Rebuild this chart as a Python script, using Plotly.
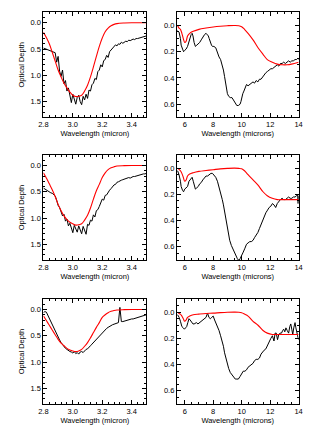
import numpy as np
import plotly.graph_objects as go

# ---------------- data ----------------
# 3-micron panels (left column): common wavelength grid for observed spectra
wl_left = np.round(np.arange(2.80, 3.5001, 0.01), 2)

obs_left_1 = [0.48, 0.49, 0.50, 0.51, 0.52, 0.53, 0.54, 0.55,
              0.57, 0.75, 0.64, 0.92, 1.02, 0.90, 1.16, 1.10, 1.30, 1.24,
              1.41, 1.52, 1.36, 1.45, 1.55, 1.42, 1.38, 1.50, 1.56, 1.40,
              1.47, 1.36, 1.44, 1.28, 1.30, 1.18, 1.15, 1.06, 1.08, 0.93,
              0.90, 0.80, 0.84, 0.72, 0.70, 0.62, 0.66, 0.55, 0.52, 0.49,
              0.47, 0.42, 0.44, 0.40, 0.41, 0.37, 0.39, 0.36, 0.35, 0.36,
              0.33, 0.34, 0.32, 0.31, 0.32, 0.30, 0.30, 0.29, 0.29, 0.28,
              0.27, 0.26, 0.25]
obs_left_2 = [0.43, 0.45, 0.46, 0.48, 0.50, 0.52, 0.53, 0.55,
              0.58, 0.66, 0.76, 0.80, 0.88, 0.96, 0.93, 1.06, 1.02, 1.15,
              1.10, 1.22, 1.28, 1.14, 1.20, 1.27, 1.15, 1.24, 1.30, 1.16,
              1.22, 1.31, 1.12, 1.14, 1.04, 1.06, 0.94, 0.98, 0.86, 0.84,
              0.78, 0.72, 0.64, 0.66, 0.57, 0.56, 0.50, 0.47, 0.44, 0.40,
              0.37, 0.36, 0.32, 0.31, 0.29, 0.28, 0.27, 0.26, 0.25, 0.25,
              0.23, 0.24, 0.22, 0.21, 0.21, 0.20, 0.19, 0.19, 0.18, 0.17,
              0.16, 0.16, 0.15]
obs_left_3 = [0.06, 0.04, 0.05, 0.11, 0.17, 0.23, 0.30, 0.37,
              0.43, 0.48, 0.53, 0.58, 0.63, 0.67, 0.70, 0.74, 0.76, 0.79,
              0.80, 0.81, 0.83, 0.80, 0.84, 0.82, 0.85, 0.81, 0.80, 0.82,
              0.78, 0.76, 0.75, 0.71, 0.69, 0.66, 0.63, 0.60, 0.57, 0.53,
              0.49, 0.47, 0.43, 0.41, 0.38, 0.36, 0.34, 0.32, 0.31, 0.29,
              0.28, 0.27, 0.26, 0.25, -0.04, 0.23, 0.23, 0.22, 0.21, 0.21,
              0.20, 0.19, 0.18, 0.18, 0.17, 0.16, 0.15, 0.15, 0.14, 0.13,
              0.12, 0.11, 0.10]

# model (red) curves for the 3-micron panels
wl_model_left = [2.80, 2.82, 2.84, 2.86, 2.88, 2.90, 2.92, 2.94, 2.96, 2.98,
                 3.00, 3.02, 3.04, 3.06, 3.08, 3.10, 3.12, 3.14, 3.16, 3.18,
                 3.20, 3.22, 3.24, 3.26, 3.28, 3.30, 3.35, 3.40, 3.45, 3.50]
model_left_1 = [0.18, 0.28, 0.40, 0.56, 0.73, 0.90, 1.03, 1.15, 1.24, 1.32,
                1.38, 1.405, 1.40, 1.38, 1.30, 1.19, 1.03, 0.84, 0.64, 0.45,
                0.29, 0.17, 0.10, 0.055, 0.03, 0.015, 0.004, 0.0, 0.0, 0.0]
model_left_2 = [0.14, 0.24, 0.35, 0.46, 0.59, 0.74, 0.86, 0.96, 1.03, 1.08,
                1.11, 1.135, 1.13, 1.11, 1.04, 0.95, 0.81, 0.64, 0.48, 0.36,
                0.23, 0.14, 0.08, 0.045, 0.025, 0.01, 0.003, 0.0, 0.0, 0.0]
model_left_3 = [0.12, 0.21, 0.30, 0.39, 0.48, 0.57, 0.64, 0.69, 0.74, 0.77,
                0.79, 0.80, 0.79, 0.76, 0.70, 0.63, 0.54, 0.44, 0.34, 0.25,
                0.15, 0.10, 0.06, 0.035, 0.02, 0.01, 0.003, 0.0, 0.0, 0.0]

# 5-14 micron panels (right column): observed spectra
wl_right_1 = [5.50, 5.60, 5.70, 5.75, 5.85, 5.92, 6.00, 6.10, 6.20, 6.30, 6.36, 6.45, 6.52, 6.58,
              6.66, 6.75, 6.85, 6.95, 7.05, 7.16, 7.27, 7.39, 7.50, 7.58, 7.66, 7.72, 7.80, 7.88,
              7.95, 8.05, 8.18, 8.30, 8.41, 8.52, 8.64, 8.72, 8.80, 8.87, 8.93, 9.00, 9.09, 9.20,
              9.32, 9.43, 9.55, 9.66, 9.77, 9.89, 9.95, 10.00, 10.08, 10.16, 10.25, 10.34, 10.45,
              10.57, 10.68, 10.80, 10.90, 11.02, 11.14, 11.25, 11.36, 11.48, 11.58, 11.70, 11.82,
              11.93, 12.05, 12.16, 12.27, 12.39, 12.50, 12.61, 12.72, 12.84, 12.95, 13.07, 13.18,
              13.30, 13.41, 13.52, 13.63, 13.75, 13.86, 13.95, 14.00]
obs_right_1 = [0.04, 0.05, 0.10, 0.15, 0.18, 0.20, 0.19, 0.18, 0.16, 0.12, 0.10, 0.07, 0.06, 0.08,
               0.13, 0.16, 0.15, 0.14, 0.13, 0.11, 0.09, 0.07, 0.06, 0.07, 0.08, 0.10, 0.13, 0.15,
               0.16, 0.16, 0.17, 0.21, 0.24, 0.26, 0.30, 0.34, 0.39, 0.44, 0.49, 0.52, 0.54, 0.55,
               0.55, 0.57, 0.59, 0.61, 0.61, 0.60, 0.58, 0.55, 0.52, 0.50, 0.47, 0.45, 0.46,
               0.45, 0.44, 0.43, 0.44, 0.42, 0.43, 0.41, 0.41, 0.39, 0.38, 0.36, 0.35,
               0.34, 0.33, 0.33, 0.32, 0.31, 0.30, 0.31, 0.29, 0.29, 0.28, 0.29, 0.28,
               0.27, 0.28, 0.27, 0.27, 0.26, 0.26, 0.25, 0.26]

wl_right_2 = [5.50, 5.60, 5.70, 5.75, 5.85, 5.92, 6.00, 6.10, 6.20, 6.30, 6.36, 6.45, 6.52, 6.60,
              6.66, 6.75, 6.85, 6.95, 7.05, 7.16, 7.27, 7.39, 7.50, 7.61, 7.72, 7.84, 7.95, 8.05,
              8.18, 8.30, 8.41, 8.52, 8.64, 8.72, 8.80, 8.90, 8.98, 9.08, 9.16, 9.28, 9.39, 9.50,
              9.61, 9.70, 9.77, 9.84, 9.89, 10.00, 10.11, 10.23, 10.34, 10.45, 10.57, 10.68,
              10.80, 10.90, 11.02, 11.14, 11.25, 11.36, 11.48, 11.58, 11.70, 11.82, 11.93,
              12.05, 12.16, 12.27, 12.39, 12.50, 12.61, 12.72, 12.84, 12.95, 13.07, 13.18,
              13.30, 13.41, 13.52, 13.63, 13.75, 13.86, 13.93, 13.97, 14.00]
obs_right_2 = [0.02, 0.05, 0.10, 0.14, 0.17, 0.18, 0.16, 0.15, 0.14, 0.10, 0.09, 0.08, 0.07, 0.10,
               0.13, 0.16, 0.15, 0.14, 0.12, 0.11, 0.09, 0.07, 0.06, 0.06, 0.05, 0.04, 0.04, 0.05,
               0.07, 0.10, 0.14, 0.19, 0.24, 0.28, 0.33, 0.38, 0.44, 0.50, 0.55, 0.59, 0.62, 0.65,
               0.67, 0.69, 0.70, 0.70, 0.69, 0.67, 0.64, 0.61, 0.58, 0.57, 0.56, 0.56,
               0.55, 0.53, 0.51, 0.49, 0.46, 0.43, 0.39, 0.37, 0.34, 0.32, 0.30,
               0.29, 0.27, 0.28, 0.30, 0.27, 0.25, 0.24, 0.23, 0.24, 0.24, 0.23,
               0.22, 0.23, 0.23, 0.22, 0.22, 0.21, 0.20, 0.27, 0.21]

wl_right_3 = [5.50, 5.61, 5.70, 5.80, 5.90, 5.98, 6.06, 6.14, 6.22, 6.30, 6.38, 6.48, 6.58, 6.66,
              6.75, 6.82, 6.93, 7.05, 7.16, 7.27, 7.39, 7.50, 7.56, 7.61, 7.70, 7.80, 7.90, 8.00,
              8.10, 8.18, 8.30, 8.41, 8.52, 8.64, 8.72, 8.80, 8.90, 8.98, 9.09, 9.20, 9.32, 9.43,
              9.55, 9.66, 9.77, 9.89, 10.00, 10.11, 10.23, 10.34, 10.45, 10.57, 10.68, 10.80,
              10.90, 11.02, 11.14, 11.25, 11.36, 11.48, 11.58, 11.70, 11.82, 11.93, 12.05,
              12.16, 12.27, 12.35, 12.43, 12.52, 12.61, 12.70, 12.80, 12.88, 12.95, 13.03,
              13.11, 13.20, 13.30, 13.38, 13.45, 13.52, 13.59, 13.66, 13.75, 13.81, 13.86,
              13.93, 14.00]
obs_right_3 = [0.02, 0.04, 0.07, 0.11, 0.12, 0.13, 0.12, 0.11, 0.08, 0.05, 0.06, 0.08, 0.09, 0.09,
               0.08, 0.08, 0.09, 0.08, 0.07, 0.06, 0.05, 0.04, 0.02, 0.01, 0.04, 0.05, 0.04, 0.03,
               0.06, 0.08, 0.11, 0.14, 0.18, 0.22, 0.26, 0.31, 0.36, 0.40, 0.43, 0.46, 0.48, 0.50,
               0.51, 0.51, 0.51, 0.49, 0.47, 0.45, 0.45, 0.44, 0.42, 0.41, 0.40, 0.39,
               0.37, 0.36, 0.36, 0.35, 0.32, 0.30, 0.29, 0.28, 0.25, 0.22, 0.20,
               0.18, 0.22, 0.16, 0.16, 0.21, 0.17, 0.16, 0.16, 0.14, 0.13, 0.15,
               0.12, 0.14, 0.16, 0.11, 0.09, 0.13, 0.17, 0.12, 0.08, 0.12, 0.16,
               0.18, 0.21]

# model (red) curves for the 5-14 micron panels
wl_model_right = [5.5, 5.6, 5.7, 5.8, 5.9, 6.0, 6.1, 6.2, 6.35, 6.6, 7.0, 7.5, 8.0, 8.5, 9.0,
                  9.5, 9.8, 10.0, 10.2, 10.45, 10.8, 11.15, 11.5, 11.8, 12.15, 12.5, 12.85,
                  13.2, 13.5, 14.0]
model_right_1 = [0.0, 0.02, 0.03, 0.06, 0.10, 0.13, 0.12, 0.08, 0.06, 0.045, 0.03, 0.02, 0.012,
                 0.006, 0.002, 0.0, 0.002, 0.01, 0.03, 0.06, 0.11, 0.17, 0.22, 0.26, 0.28,
                 0.295, 0.30, 0.30, 0.295, 0.28]
model_right_2 = [0.0, 0.01, 0.02, 0.04, 0.07, 0.10, 0.09, 0.06, 0.045, 0.035, 0.025, 0.018,
                 0.012, 0.006, 0.002, 0.0, 0.002, 0.005, 0.02, 0.05, 0.09, 0.13, 0.18, 0.21,
                 0.23, 0.24, 0.24, 0.24, 0.24, 0.24]
model_right_3 = [0.0, 0.01, 0.015, 0.03, 0.05, 0.07, 0.06, 0.04, 0.03, 0.02, 0.015, 0.01, 0.008,
                 0.004, 0.001, 0.0, 0.001, 0.005, 0.015, 0.03, 0.07, 0.10, 0.14, 0.16, 0.17,
                 0.17, 0.17, 0.17, 0.17, 0.17]

left_ticks = [2.8, 3.0, 3.2, 3.4]
left_yticks = [0.0, 0.5, 1.0, 1.5]
right_ticks = [6, 8, 10, 12, 14]
right_yticks = [0.0, 0.2, 0.4, 0.6]

# ---------------- figure ----------------
W, H = 315, 428
OFF = 8  # page body margin of the browser
fig = go.Figure()

left_x_dom = [(39.3 - OFF) / W, (145.3 - OFF) / W]
right_x_dom = [(176.7 - OFF) / W, (302.0 - OFF) / W]
row_px = [(12.3, 117.3), (155.0, 260.0), (299.0, 404.0)]

obs_left = [obs_left_1, obs_left_2, obs_left_3]
mod_left = [model_left_1, model_left_2, model_left_3]
wl_right = [wl_right_1, wl_right_2, wl_right_3]
obs_right = [obs_right_1, obs_right_2, obs_right_3]
mod_right = [model_right_1, model_right_2, model_right_3]

FONT = dict(family="Liberation Sans, Arial, sans-serif", size=7.5, color="black")

def axis_common():
    return dict(showgrid=False, zeroline=False, showline=True, linecolor="black",
                linewidth=1, mirror="ticks", ticks="inside", ticklen=4,
                tickcolor="black", tickwidth=1, tickfont=FONT)

for r in range(3):
    top, bot = row_px[r]
    ydom = [1 - (bot - OFF) / H, 1 - (top - OFF) / H]
    li = 2 * r + 1
    ri = 2 * r + 2
    xl = "x" if li == 1 else f"x{li}"
    yl = "y" if li == 1 else f"y{li}"
    xr = f"x{ri}"
    yr = f"y{ri}"

    fig.add_trace(go.Scatter(x=wl_left, y=obs_left[r], mode="lines",
                             line=dict(color="black", width=1), xaxis=xl, yaxis=yl,
                             showlegend=False))
    fig.add_trace(go.Scatter(x=wl_model_left, y=mod_left[r], mode="lines",
                             line=dict(color="#ff0000", width=1.1, shape="spline"),
                             xaxis=xl, yaxis=yl, showlegend=False))
    fig.add_trace(go.Scatter(x=wl_right[r], y=obs_right[r], mode="lines",
                             line=dict(color="black", width=1), xaxis=xr, yaxis=yr,
                             showlegend=False))
    fig.add_trace(go.Scatter(x=wl_model_right, y=mod_right[r], mode="lines",
                             line=dict(color="#ff0000", width=1.1, shape="spline"),
                             xaxis=xr, yaxis=yr, showlegend=False))

    xl_key = "xaxis" if li == 1 else f"xaxis{li}"
    yl_key = "yaxis" if li == 1 else f"yaxis{li}"
    xr_key = f"xaxis{ri}"
    yr_key = f"yaxis{ri}"

    fig.layout[xl_key] = dict(axis_common(), domain=left_x_dom, anchor=yl,
                              range=[2.8, 3.5], tickvals=left_ticks, tickformat=".1f",
                              minor=dict(dtick=0.04, tick0=2.8, ticks="inside", ticklen=2,
                                         tickcolor="black"),
                              title=dict(text="Wavelength (micron)", font=FONT, standoff=2))
    fig.layout[yl_key] = dict(axis_common(), domain=ydom, anchor=xl,
                              range=[1.8, -0.2], tickvals=left_yticks, tickformat=".1f",
                              minor=dict(dtick=0.1, tick0=0, ticks="inside", ticklen=2,
                                         tickcolor="black"),
                              title=dict(text="Optical Depth", font=FONT, standoff=4))
    fig.layout[xr_key] = dict(axis_common(), domain=right_x_dom, anchor=yr,
                              range=[5.45, 14], tickvals=right_ticks,
                              minor=dict(dtick=0.5, tick0=6, ticks="inside", ticklen=2,
                                         tickcolor="black"),
                              title=dict(text="Wavelength (microns)", font=FONT, standoff=2))
    fig.layout[yr_key] = dict(axis_common(), domain=ydom, anchor=xr,
                              range=[0.7, -0.1], tickvals=right_yticks, tickformat=".1f",
                              minor=dict(dtick=0.05, tick0=0, ticks="inside", ticklen=2,
                                         tickcolor="black"))

fig.update_layout(width=W, height=H, margin=dict(l=0, r=0, t=0, b=0),
                  paper_bgcolor="white", plot_bgcolor="white", font=FONT)

fig.write_html("out.html")
